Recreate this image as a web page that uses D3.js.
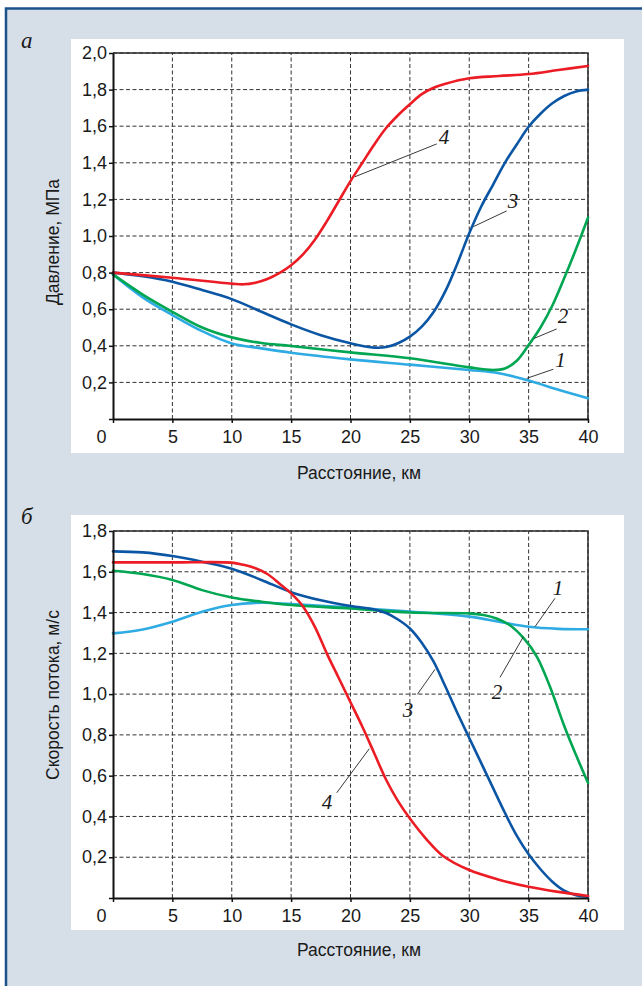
<!DOCTYPE html>
<html>
<head>
<meta charset="utf-8">
<script src="https://cdn.jsdelivr.net/npm/d3@7"></script>
<style>
	body{ margin: 0; background: #fff; }
	svg{ display: block; }
	.tick text{ font-family: "Liberation Sans", Arial, sans-serif; font-size: 18px; fill: #1a1a1a; }
	.title{ font-family: "Liberation Sans", Arial, sans-serif; font-size: 17.5px; fill: #1a1a1a; }
	.note{ font-family: "Liberation Serif", "Times New Roman", serif; font-style: italic; fill: #1a1a1a; }
</style>
</head>
<body>
<svg id="figure" width="642" height="986"></svg>
<script>
(function(){
	'use strict';

	// x axis (distance, km)
	var distanceTicks = [0, 5, 10, 15, 20, 25, 30, 35, 40];
	// y axis ticks
	var pressureTicks = [0, 0.2, 0.4, 0.6, 0.8, 1.0, 1.2, 1.4, 1.6, 1.8, 2.0];
	var velocityTicks = [0, 0.2, 0.4, 0.6, 0.8, 1.0, 1.2, 1.4, 1.6, 1.8];

	var seriesNames = ["1", "2", "3", "4"];
	var seriesColors = ["#2fabe3", "#00a651", "#0b56a4", "#ec1c24"];

	// a: pressure, MPa  [km, value]
	var pressure1 = [[0, 0.79], [2.5, 0.665], [5, 0.568], [7.5, 0.48], [10, 0.413], [12.5, 0.386], [15, 0.362],
		[20, 0.326], [25, 0.297], [30, 0.268], [32.5, 0.25], [35, 0.21], [37.5, 0.16], [40, 0.113]];
	var pressure2 = [[0, 0.79], [2.5, 0.68], [5, 0.586], [7.5, 0.5], [10, 0.446], [12.5, 0.415], [15, 0.399],
		[20, 0.364], [25, 0.332], [30, 0.282], [32, 0.268], [33, 0.276], [34, 0.318], [35, 0.404], [36, 0.5],
		[37, 0.62], [38, 0.77], [39, 0.93], [40, 1.1]];
	var pressure3 = [[0, 0.8], [2.5, 0.78], [5, 0.75], [7.5, 0.705], [10, 0.655], [12.5, 0.586], [15, 0.517],
		[17.5, 0.458], [20, 0.414], [22, 0.39], [23, 0.393], [24, 0.414], [25, 0.45], [26, 0.505], [27, 0.585],
		[28, 0.7], [29, 0.85], [30, 1.015], [31, 1.16], [32, 1.28], [33, 1.4], [34, 1.5], [35, 1.597],
		[36, 1.668], [37, 1.725], [38, 1.765], [39, 1.79], [40, 1.8]];
	var pressure4 = [[0, 0.8], [5, 0.772], [10, 0.74], [11, 0.736], [12, 0.745], [13, 0.765], [14, 0.797],
		[15, 0.84], [16, 0.9], [17, 0.98], [18, 1.08], [19, 1.19], [20, 1.3], [21, 1.4], [22, 1.5], [23, 1.59],
		[24, 1.66], [25, 1.72], [26, 1.775], [27, 1.81], [28, 1.832], [30, 1.862], [32.5, 1.874], [35, 1.885],
		[37.5, 1.907], [40, 1.929]];

	// б: flow velocity, m/s  [km, value]
	var velocity1 = [[0, 1.298], [2.5, 1.317], [5, 1.355], [7.5, 1.404], [10, 1.437], [12.5, 1.448], [15, 1.442],
		[20, 1.425], [25, 1.405], [30, 1.38], [32.5, 1.355], [35, 1.33], [37.5, 1.32], [40, 1.318]];
	var velocity2 = [[0, 1.605], [2.5, 1.589], [5, 1.56], [7.5, 1.51], [10, 1.474], [12.5, 1.453], [15, 1.437],
		[20, 1.42], [25, 1.4], [30, 1.396], [31.2, 1.388], [32.3, 1.371], [33.4, 1.339], [34.6, 1.273],
		[35.7, 1.183], [36.8, 1.036], [38, 0.844], [39, 0.7], [40, 0.565]];
	var velocity3 = [[0, 1.7], [2.5, 1.695], [5, 1.677], [7.5, 1.649], [10, 1.615], [12.5, 1.56], [15, 1.5],
		[17.5, 1.46], [20, 1.432], [22, 1.415], [23, 1.398], [24, 1.366], [25, 1.322], [26, 1.252], [27, 1.159],
		[28, 1.036], [29, 0.907], [30, 0.785], [31, 0.663], [32, 0.54], [33, 0.418], [34, 0.306], [35, 0.214],
		[36, 0.141], [37, 0.08], [38, 0.036], [39, 0.014], [40, 0.006]];
	var velocity4 = [[0, 1.646], [5, 1.646], [10, 1.645], [11, 1.634], [12, 1.617], [13, 1.589], [14, 1.543],
		[15, 1.494], [16, 1.43], [17, 1.33], [18, 1.2], [19, 1.08], [20, 0.96], [21, 0.84], [22, 0.71],
		[23, 0.58], [24, 0.475], [25, 0.39], [26.4, 0.288], [27.8, 0.206], [30, 0.137], [32.5, 0.09],
		[35, 0.055], [37.5, 0.03], [40, 0.01]];

	// curve labels: leader from -> to, label centre (km, value)
	var pressureNotes = [
		{ name: "1", from: [34.84, 0.222], to: [37.08, 0.272], at: [37.68, 0.284] },
		{ name: "2", from: [35.48, 0.441], to: [37.36, 0.492], at: [37.89, 0.525] },
		{ name: "3", from: [30.34, 1.051], to: [33.15, 1.137], at: [33.68, 1.153] },
		{ name: "4", from: [20.38, 1.324], to: [27.26, 1.503], at: [27.87, 1.503] }
	];
	var velocityNotes = [
		{ name: "1", from: [35.54, 1.331], to: [37.22, 1.47], at: [37.47, 1.486] },
		{ name: "2", from: [34.55, 1.281], to: [32.59, 1.082], at: [32.34, 0.976] },
		{ name: "3", from: [27.12, 1.122], to: [25.63, 0.999], at: [24.84, 0.888] },
		{ name: "4", from: [21.58, 0.732], to: [18.84, 0.516], at: [18.02, 0.436] }
	];

	var ru = d3.formatLocale({ decimal: ",", thousands: " ", grouping: [3], currency: ["", ""] });
	var fmt = ru.format(".1f");

	var svg = d3.select("#figure");

	// background frame
	svg.append("rect")
		.attr("x", 6).attr("y", 8)
		.attr("width", 642).attr("height", 986)
		.attr("fill", "#d6dfe8");
	svg.append("path")
		.attr("d", "M6,990V8.5H642")
		.attr("fill", "none")
		.attr("stroke", "#1b5289")
		.attr("stroke-width", 2.5);

	function drawPanel(opt){
		var g = svg.append("g");

		g.append("rect")
			.attr("x", 71).attr("y", opt.panelTop)
			.attr("width", 553).attr("height", opt.panelHeight)
			.attr("fill", "#fff");

		g.append("text")
			.attr("class", "note")
			.attr("x", 21).attr("y", opt.panelTop + 9)
			.attr("font-size", 23)
			.text(opt.letter);

		var x = d3.scaleLinear().domain([0, 40]).range([113, 588]);
		var y = d3.scaleLinear().domain([0, opt.yMax]).range([opt.bottom, opt.top]);

		// dashed grid
		var grid = g.append("g")
			.attr("stroke", "#333")
			.attr("stroke-width", 1)
			.attr("stroke-dasharray", "4,2.5");
		grid.selectAll("line.h")
			.data(opt.yTicks.filter(function(d){ return d > 0; }))
		.enter().append("line")
			.attr("x1", x(0)).attr("x2", x(40))
			.attr("y1", function(d){ return y(d); })
			.attr("y2", function(d){ return y(d); });
		grid.selectAll("line.v")
			.data(distanceTicks.filter(function(d){ return d > 0; }))
		.enter().append("line")
			.attr("x1", function(d){ return x(d); })
			.attr("x2", function(d){ return x(d); })
			.attr("y1", y(0)).attr("y2", y(opt.yMax));

		// top and right border
		g.append("path")
			.attr("d", "M" + x(0) + "," + y(opt.yMax) + "H" + x(40) + "V" + y(0))
			.attr("fill", "none")
			.attr("stroke", "#2a2a2a")
			.attr("stroke-width", 1.5);

		// series
		var line = d3.line()
			.curve(d3.curveCatmullRom.alpha(0.5))
			.x(function(d){ return x(d[0]); })
			.y(function(d){ return y(d[1]); });
		g.append("g").selectAll("path")
			.data(opt.series)
		.enter().append("path")
			.attr("fill", "none")
			.attr("stroke", function(d, i){ return seriesColors[i]; })
			.attr("stroke-width", 2.6)
			.attr("stroke-linecap", "round")
			.attr("d", line);

		// axes
		var xAxis = d3.axisBottom(x)
			.tickValues(distanceTicks)
			.tickSize(4)
			.tickSizeOuter(0)
			.tickPadding(7)
			.tickFormat(d3.format("d"));
		var yAxis = d3.axisLeft(y)
			.tickValues(opt.yTicks)
			.tickSize(4)
			.tickSizeOuter(0)
			.tickPadding(2)
			.tickFormat(function(d){ return d > 0 ? fmt(d) : ""; });

		var gx = g.append("g")
			.attr("transform", "translate(0," + y(0) + ")")
			.call(xAxis);
		gx.selectAll(".tick")
			.filter(function(d){ return d === 0; })
			.select("text")
			.attr("x", -12);
		var gy = g.append("g")
			.attr("transform", "translate(" + x(0) + ",0)")
			.call(yAxis);
		[gx, gy].forEach(function(a){
			a.select(".domain").attr("stroke", "#111").attr("stroke-width", 2);
			a.selectAll(".tick line").attr("stroke", "#111").attr("stroke-width", 1.5);
		});

		// titles
		g.append("text")
			.attr("class", "title")
			.attr("text-anchor", "middle")
			.attr("transform", "translate(59," + opt.yTitleAt + ") rotate(-90)")
			.text(opt.yTitle);
		g.append("text")
			.attr("class", "title")
			.attr("text-anchor", "middle")
			.attr("x", 359)
			.attr("y", opt.xTitleAt)
			.text("Расстояние, км");

		// curve numbers
		var notes = g.append("g");
		notes.selectAll("line")
			.data(opt.notes)
		.enter().append("line")
			.attr("x1", function(d){ return x(d.from[0]); })
			.attr("y1", function(d){ return y(d.from[1]); })
			.attr("x2", function(d){ return x(d.to[0]); })
			.attr("y2", function(d){ return y(d.to[1]); })
			.attr("stroke", "#222")
			.attr("stroke-width", 0.9);
		notes.selectAll("text")
			.data(opt.notes)
		.enter().append("text")
			.attr("class", "note")
			.attr("font-size", 21)
			.attr("text-anchor", "middle")
			.attr("x", function(d){ return x(d.at[0]); })
			.attr("y", function(d){ return y(d.at[1]); })
			.text(function(d){ return d.name; });
	}

	drawPanel({
		letter: "а",
		panelTop: 39, panelHeight: 414,
		top: 53, bottom: 419, yMax: 2.0,
		yTicks: pressureTicks,
		series: [pressure1, pressure2, pressure3, pressure4],
		notes: pressureNotes,
		yTitle: "Давление, МПа", yTitleAt: 242,
		xTitleAt: 479
	});

	drawPanel({
		letter: "б",
		panelTop: 515, panelHeight: 415,
		top: 531, bottom: 898, yMax: 1.8,
		yTicks: velocityTicks,
		series: [velocity1, velocity2, velocity3, velocity4],
		notes: velocityNotes,
		yTitle: "Скорость потока, м/с", yTitleAt: 695,
		xTitleAt: 956
	});
}());
</script>
</body>
</html>
